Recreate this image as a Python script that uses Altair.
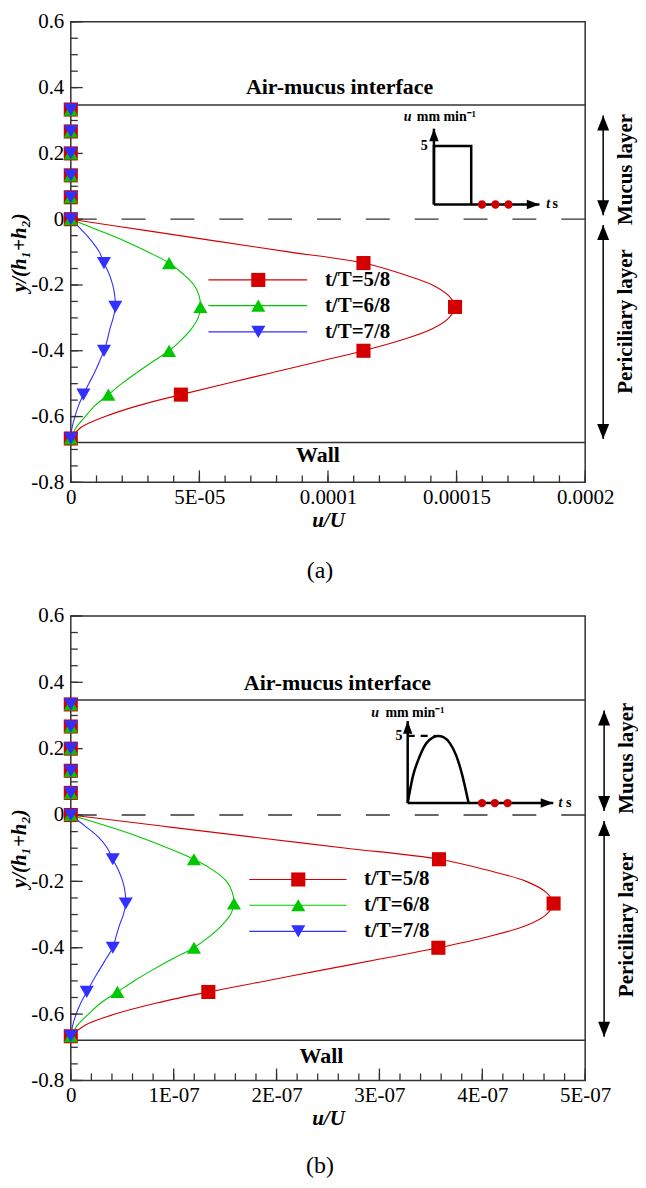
import altair as alt
import pandas as pd
import numpy as np

# ---------------- data ----------------
SERIES = ["t/T=5/8", "t/T=6/8", "t/T=7/8"]
COLORS = ["#d40000", "#00c800", "#3030ff"]
SHAPES = ["square", "triangle-up", "triangle-down"]

Y_MUCUS = [0.3333, 0.2667, 0.2, 0.1333, 0.0667]
Y_PCL = [0.0, -0.0333, -0.0667, -0.1, -0.1333, -0.1667, -0.2, -0.2333, -0.2667, -0.3,
         -0.3333, -0.3667, -0.4, -0.4333, -0.4667, -0.5, -0.5333, -0.5667, -0.6, -0.6333, -0.6667]
MARK_EVERY = 4

# panel (a): square pulse
U_A_58 = [0, 2.82e-5, 5.66e-5, 8.53e-5, 1.138e-4, 1.289e-4, 1.406e-4, 1.470e-4, 1.494e-4, 1.470e-4,
          1.406e-4, 1.289e-4, 1.138e-4, 9.61e-5, 7.82e-5, 6.02e-5, 4.28e-5, 2.62e-5, 1.33e-5, 3.9e-6, 0]
U_A_68 = [0, 1.07e-5, 2.11e-5, 3.01e-5, 3.82e-5, 4.37e-5, 4.79e-5, 4.99e-5, 5.04e-5, 4.95e-5,
          4.69e-5, 4.30e-5, 3.82e-5, 3.18e-5, 2.56e-5, 1.98e-5, 1.46e-5, 9.4e-6, 5.6e-6, 2.1e-6, 0]
U_A_78 = [0, 4.3e-6, 8.1e-6, 1.11e-5, 1.29e-5, 1.49e-5, 1.63e-5, 1.71e-5, 1.73e-5, 1.65e-5,
          1.52e-5, 1.42e-5, 1.29e-5, 1.11e-5, 9.2e-6, 7.0e-6, 4.9e-6, 3.0e-6, 1.6e-6, 5e-7, 0]

# panel (b): half-sine pulse
U_B_58 = [0, 8.83e-8, 1.773e-7, 2.680e-7, 3.579e-7, 4.055e-7, 4.427e-7, 4.621e-7, 4.693e-7, 4.621e-7,
          4.427e-7, 4.055e-7, 3.573e-7, 3.019e-7, 2.453e-7, 1.896e-7, 1.337e-7, 8.35e-8, 4.30e-8, 1.39e-8, 0]
U_B_68 = [0, 3.50e-8, 6.73e-8, 9.48e-8, 1.197e-7, 1.385e-7, 1.515e-7, 1.570e-7, 1.586e-7, 1.553e-7,
          1.466e-7, 1.346e-7, 1.197e-7, 9.90e-8, 7.96e-8, 6.15e-8, 4.53e-8, 2.91e-8, 1.72e-8, 6.5e-9, 0]
U_B_78 = [0, 1.39e-8, 2.69e-8, 3.56e-8, 4.08e-8, 4.63e-8, 5.05e-8, 5.28e-8, 5.34e-8, 5.11e-8,
          4.72e-8, 4.40e-8, 4.08e-8, 3.43e-8, 2.78e-8, 2.14e-8, 1.55e-8, 9.7e-9, 5.2e-9, 1.9e-9, 0]

# axes
X_TICKS_A = [0, 5e-5, 1e-4, 1.5e-4, 2e-4]
X_LABELS_A = ["0", "5E-05", "0.0001", "0.00015", "0.0002"]
X_TICKS_B = [0, 1e-7, 2e-7, 3e-7, 4e-7, 5e-7]
X_LABELS_B = ["0", "1E-07", "2E-07", "3E-07", "4E-07", "5E-07"]
Y_TICKS = [-0.8, -0.6, -0.4, -0.2, 0, 0.2, 0.4, 0.6]
Y_LABELS = ["-0.8", "-0.6", "-0.4", "-0.2", "0", "0.2", "0.4", "0.6"]

# layer boundaries
Y_INTERFACE = 0.347
Y_WALL = -0.679

# inset schematic values (t in pulse widths, u in mm/min)
PULSE_A_T = [0, 0, 1, 1]
PULSE_A_U = [0, 5, 5, 0]
PULSE_B_T = [0, 0.083, 0.194, 0.306, 0.417, 0.5, 0.594, 0.694, 0.794, 0.889, 1.0]
PULSE_B_U = [0, 1.95, 3.45, 4.45, 4.9, 5.0, 4.9, 4.45, 3.575, 2.2, 0]
DOTS_A_T = [1.29, 1.65, 2.0]
DOTS_B_T = [1.22, 1.43, 1.64]

FONT = "Liberation Serif"
FRAME = "#333333"

UP = "M0,0 L-0.8,2 L0.8,2 Z"
DOWN = "M0,0 L-0.8,-2 L0.8,-2 Z"
UP_S = "M0,0 L-0.75,2 L0.75,2 Z"
RIGHT_S = "M0,0 L-2,-0.75 L-2,0.75 Z"


def label_expr(values, labels, tol):
    expr = "''"
    for v, l in reversed(list(zip(values, labels))):
        expr = f"abs(datum.value - ({v!r})) < {tol!r} ? '{l}' : ({expr})"
    return expr


PANELS = {
    "a": dict(
        H=462, cap_dy=89, xmax=2e-4, xticks=X_TICKS_A, xlabels=X_LABELS_A, minor=1e-5, tol=1e-6,
        U=[U_A_58, U_A_68, U_A_78], caption="(a)",
        leg=dict(x1=5.35e-5, x2=9.19e-5, xm=7.29e-5, xt=9.88e-5, ys=[-0.1846, -0.2630, -0.3425]),
        interface=(1.045e-4, 0.401), wall=(9.61e-5, -0.718),
        arrow_x=2.070e-4, side_x=2.157e-4, mucus_y=0.151, pcl_y=-0.311,
        inset=dict(X0=1.412e-4, Y0=0.0447, SX=1.4496e-5, SY=0.035567,
                   pulse=(PULSE_A_T, PULSE_A_U), dots=DOTS_A_T, xlen=2.83, ylen=6.48,
                   five_t=-0.17, u_t=-0.81, mm_t=-0.46, lab_u=7.45, t_t=3.01, s_t=3.18, dash=False),
    ),
    "b": dict(
        H=466, cap_dy=86, xmax=5e-7, xticks=X_TICKS_B, xlabels=X_LABELS_B, minor=2e-8, tol=1e-9,
        U=[U_B_58, U_B_68, U_B_78], caption="(b)",
        leg=dict(x1=1.735e-7, x2=2.680e-7, xm=2.211e-7, xt=2.851e-7, ys=[-0.1943, -0.2720, -0.3506]),
        interface=(2.592e-7, 0.398), wall=(2.437e-7, -0.726),
        arrow_x=5.184e-7, side_x=5.403e-7, mucus_y=0.171, pcl_y=-0.331,
        inset=dict(X0=3.2748e-7, Y0=0.0359, SX=5.922e-8, SY=0.04048,
                   pulse=(PULSE_B_T, PULSE_B_U), dots=DOTS_B_T, xlen=2.39, ylen=6.11,
                   five_t=-0.087, u_t=-0.6, mm_t=-0.366, lab_u=6.72, t_t=2.475, s_t=2.6, dash=True),
    ),
}

W = 516


def make_panel(cfg):
    H = cfg["H"]
    xs = alt.Scale(domain=[0, cfg["xmax"]], nice=False, zero=False)
    ys = alt.Scale(domain=[-0.8, 0.6], nice=False, zero=False)
    cs = alt.Scale(domain=SERIES, range=COLORS)
    ss = alt.Scale(domain=SERIES, range=SHAPES)

    xaxis = alt.Axis(values=cfg["xticks"], labelExpr=label_expr(cfg["xticks"], cfg["xlabels"], cfg["tol"]),
                     ticks=False, grid=False, domain=False, labelFlush=False, labelOverlap=False,
                     labelFont=FONT, labelFontSize=21, labelColor="black", labelPadding=4,
                     title="u/U", titleFont=FONT, titleFontSize=21, titleFontStyle="italic",
                     titleFontWeight="bold", titleColor="black", titlePadding=2)
    yaxis = alt.Axis(values=Y_TICKS, labelExpr=label_expr(Y_TICKS, Y_LABELS, 1e-3),
                     ticks=False, grid=False, domain=False, labelFlush=False, labelOverlap=False,
                     labelFont=FONT, labelFontSize=21, labelColor="black", labelPadding=7,
                     title="y/(h₁+h₂)", titleFont=FONT, titleFontSize=21, titleFontStyle="italic",
                     titleFontWeight="bold", titleColor="black", titlePadding=1)

    def X(f="x"):
        return alt.X(f"{f}:Q", scale=xs, axis=xaxis)

    def Y(f="y"):
        return alt.Y(f"{f}:Q", scale=ys, axis=yaxis)

    # profile data
    rows, mrows = [], []
    for s, U in zip(SERIES, cfg["U"]):
        for y in Y_MUCUS:
            mrows.append(dict(s=s, u=0.0, y=y))
        for j, (y, u) in enumerate(zip(Y_PCL, U)):
            rows.append(dict(s=s, u=u, y=y, k=j))
            if j % MARK_EVERY == 0:
                mrows.append(dict(s=s, u=u, y=y))
    prof = pd.DataFrame(rows)
    marks = pd.DataFrame(mrows)

    lines = alt.Chart(prof).mark_line(strokeWidth=1.1, interpolate="catmull-rom", clip=True).encode(
        x=X("u"), y=Y("y"),
        color=alt.Color("s:N", scale=cs, legend=None), order="k:Q", detail="s:N")
    points = alt.Chart(marks).mark_point(filled=True, size=200, opacity=1, strokeWidth=0.5).encode(
        x=X("u"), y=Y("y"), color=alt.Color("s:N", scale=cs, legend=None),
        shape=alt.Shape("s:N", scale=ss, legend=None))

    # boundary lines
    bnd = alt.Chart(pd.DataFrame({"y": [Y_INTERFACE, Y_WALL]})).mark_rule(
        color=FRAME, strokeWidth=1.5).encode(y=Y("y"))
    dashed = alt.Chart(pd.DataFrame({"y": [0.0]})).mark_rule(
        color=FRAME, strokeWidth=1.3, strokeDash=[24, 25]).encode(y=Y("y"))

    # inward ticks
    xmaj = cfg["xticks"]
    xmin = [float(v) for v in np.arange(0, cfg["xmax"] + cfg["minor"] / 2, cfg["minor"])]
    ymin = [float(v) for v in np.arange(-0.8, 0.6 + 0.025, 0.05)]
    tick_style = dict(color=FRAME, strokeWidth=1.3)
    t1 = alt.Chart(pd.DataFrame({"v": xmaj})).mark_rule(**tick_style).encode(
        x=X("v"), y=alt.value(H), y2=alt.value(H - 12))
    t2 = alt.Chart(pd.DataFrame({"v": xmin})).mark_rule(**tick_style).encode(
        x=X("v"), y=alt.value(H), y2=alt.value(H - 7))
    t3 = alt.Chart(pd.DataFrame({"v": Y_TICKS})).mark_rule(**tick_style).encode(
        y=Y("v"), x=alt.value(0), x2=alt.value(12))
    t4 = alt.Chart(pd.DataFrame({"v": ymin})).mark_rule(**tick_style).encode(
        y=Y("v"), x=alt.value(0), x2=alt.value(7))

    # region labels
    lab_df = pd.DataFrame({"x": [cfg["interface"][0], cfg["wall"][0]],
                           "y": [cfg["interface"][1], cfg["wall"][1]],
                           "text": ["Air-mucus interface", "Wall"]})
    labels = alt.Chart(lab_df).mark_text(font=FONT, fontSize=22, fontWeight="bold", color="black",
                                         baseline="middle").encode(x=X(), y=Y(), text="text:N")

    # legend
    lg = cfg["leg"]
    leg_df = pd.DataFrame({"s": SERIES, "y": lg["ys"], "x1": [lg["x1"]] * 3, "x2": [lg["x2"]] * 3,
                           "xm": [lg["xm"]] * 3, "xt": [lg["xt"]] * 3})
    leg_l = alt.Chart(leg_df).mark_rule(strokeWidth=1.2).encode(
        x=X("x1"), x2="x2:Q", y=Y("y"), color=alt.Color("s:N", scale=cs, legend=None))
    leg_p = alt.Chart(leg_df).mark_point(filled=True, size=200, opacity=1).encode(
        x=X("xm"), y=Y("y"), color=alt.Color("s:N", scale=cs, legend=None),
        shape=alt.Shape("s:N", scale=ss, legend=None))
    leg_t = alt.Chart(leg_df).mark_text(font=FONT, fontSize=21, fontWeight="bold", color="black",
                                        align="left", baseline="middle").encode(
        x=X("xt"), y=Y("y"), text="s:N")

    # right-side layer arrows
    ax = cfg["arrow_x"]
    arr_df = pd.DataFrame({"x": [ax, ax], "y1": [0.315, -0.018], "y2": [0.012, -0.668]})
    arr = alt.Chart(arr_df).mark_rule(color="black", strokeWidth=1.5).encode(
        x=X("x"), y=Y("y1"), y2="y2:Q")
    head_up = alt.Chart(arr_df).mark_point(shape=UP, filled=True, size=225, color="black",
                                           opacity=1).encode(x=X("x"), y=Y("y1"))
    head_dn = alt.Chart(arr_df).mark_point(shape=DOWN, filled=True, size=225, color="black",
                                           opacity=1).encode(x=X("x"), y=Y("y2"))
    side_df = pd.DataFrame({"x": [cfg["side_x"]] * 2, "y": [cfg["mucus_y"], cfg["pcl_y"]],
                            "text": ["Mucus layer", "Periciliary layer"]})
    side = alt.Chart(side_df).mark_text(font=FONT, fontSize=21, fontWeight="bold", color="black",
                                        angle=270, baseline="middle", align="center").encode(
        x=X(), y=Y(), text="text:N")

    # panel caption below the axis title
    cap = alt.Chart(pd.DataFrame({"text": [cfg["caption"]]})).mark_text(
        font=FONT, fontSize=24, color="black", align="center", baseline="middle").encode(
        x=alt.value(W / 2 - 8), y=alt.value(H + cfg["cap_dy"]), text="text:N")

    # inset schematic
    ins = cfg["inset"]

    def tx(t):
        return [ins["X0"] + v * ins["SX"] for v in t]

    def uy(u):
        return [ins["Y0"] + v * ins["SY"] for v in u]

    pt, pu = ins["pulse"]
    pulse_df = pd.DataFrame({"x": tx(pt), "y": uy(pu), "k": list(range(len(pt)))})
    pulse = alt.Chart(pulse_df).mark_line(color="black", strokeWidth=2.5,
                                          interpolate="monotone" if ins["dash"] else "linear").encode(
        x=X(), y=Y(), order="k:Q")
    axes_df = pd.DataFrame({"x": tx([0, 0]), "y": uy([0, 0]),
                            "x2": tx([ins["xlen"], 0]), "y2": uy([0, ins["ylen"]])})
    iax = alt.Chart(axes_df).mark_rule(color="black", strokeWidth=2.5).encode(
        x=X(), y=Y(), x2="x2:Q", y2="y2:Q")
    ihead_up = alt.Chart(pd.DataFrame({"x": tx([0]), "y": uy([ins["ylen"]])})).mark_point(
        shape=UP_S, filled=True, size=160, color="black", opacity=1).encode(x=X(), y=Y())
    ihead_r = alt.Chart(pd.DataFrame({"x": tx([ins["xlen"]]), "y": uy([0])})).mark_point(
        shape=RIGHT_S, filled=True, size=160, color="black", opacity=1).encode(x=X(), y=Y())
    dots = alt.Chart(pd.DataFrame({"x": tx(ins["dots"]), "y": uy([0, 0, 0])})).mark_point(
        shape="circle", filled=True, size=70, color="#cc0000", opacity=1).encode(x=X(), y=Y())
    itext = pd.DataFrame({"x": tx([ins["five_t"], ins["mm_t"], ins["s_t"]]),
                          "y": uy([5, ins["lab_u"], 0]),
                          "text": ["5", "mm min⁻¹", "s"]})
    it1 = alt.Chart(itext.iloc[[0]]).mark_text(font=FONT, fontSize=14, fontWeight="bold", color="black",
                                               align="right", baseline="middle").encode(
        x=X(), y=Y(), text="text:N")
    it2 = alt.Chart(itext.iloc[[1, 2]]).mark_text(font=FONT, fontSize=14, fontWeight="bold",
                                                  color="black", align="left", baseline="middle").encode(
        x=X(), y=Y(), text="text:N")
    itit = pd.DataFrame({"x": tx([ins["u_t"], ins["t_t"]]), "y": uy([ins["lab_u"], 0]),
                         "text": ["u", "t"]})
    it3 = alt.Chart(itit).mark_text(font=FONT, fontSize=14, fontWeight="bold", fontStyle="italic",
                                    color="black", align="left", baseline="middle").encode(
        x=X(), y=Y(), text="text:N")
    inset_layers = [pulse, iax, ihead_up, ihead_r, dots, it1, it2, it3]
    if ins["dash"]:
        dash_df = pd.DataFrame({"x": tx([0]), "x2": tx([0.45]), "y": uy([5])})
        inset_layers.append(alt.Chart(dash_df).mark_rule(color="black", strokeWidth=2.2,
                                                         strokeDash=[7, 6]).encode(
            x=X(), x2="x2:Q", y=Y()))

    layered = alt.layer(
        lines, bnd, dashed, t1, t2, t3, t4, labels, leg_l, leg_p, leg_t,
        arr, head_up, head_dn, side, cap, *inset_layers, points,
    ).properties(width=W, height=H)
    return layered


chart = alt.vconcat(make_panel(PANELS["a"]), make_panel(PANELS["b"]), spacing=20).properties(
    padding={"left": 0, "top": 0, "right": 0, "bottom": 0},
    background="white",
).configure_view(stroke=FRAME, strokeWidth=1.5)

chart.save("out.html", embed_options={"renderer": "svg", "actions": False})
